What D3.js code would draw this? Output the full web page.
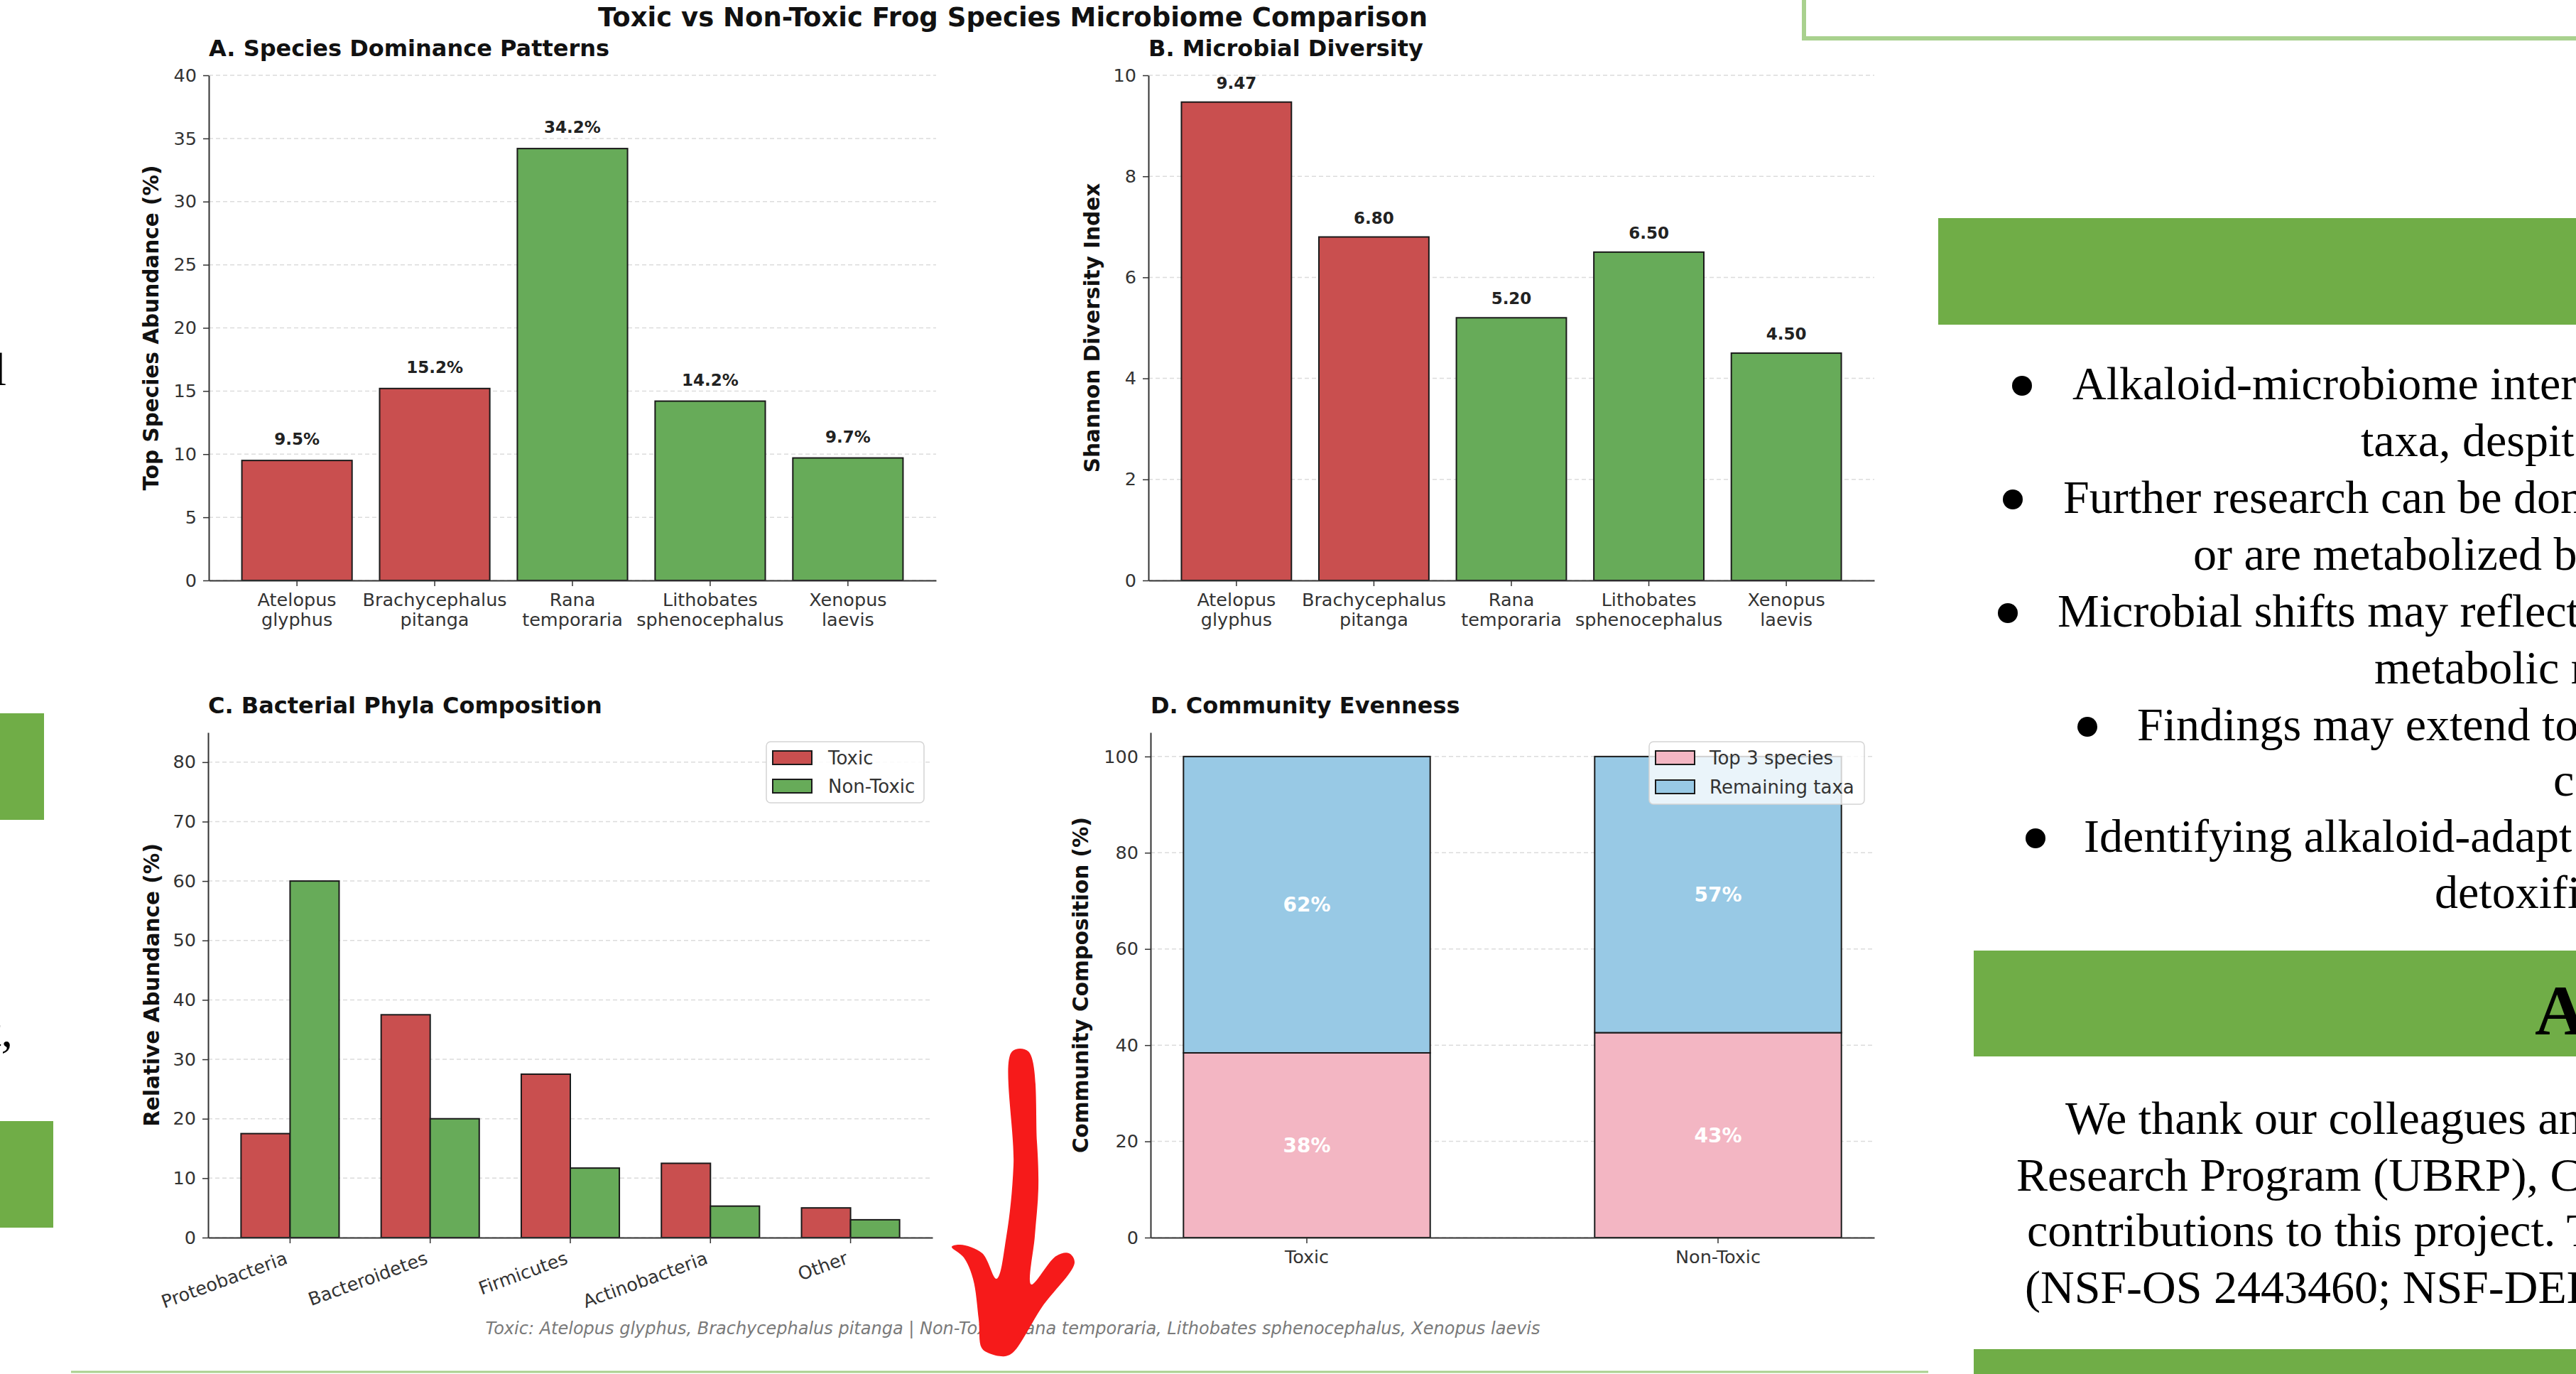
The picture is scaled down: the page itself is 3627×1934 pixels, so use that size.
<!DOCTYPE html>
<html>
<head>
<meta charset="utf-8">
<script src="https://cdn.jsdelivr.net/npm/d3@7"></script>
<style>
  body { margin: 0; background: #fff; }
  svg { display: block; }
</style>
</head>
<body>
<script>
// data
const species = ["Atelopus glyphus", "Brachycephalus pitanga", "Rana temporaria", "Lithobates sphenocephalus", "Xenopus laevis"];
const speciesGroup = ["Toxic", "Toxic", "Non-Toxic", "Non-Toxic", "Non-Toxic"];
const topSpeciesAbundance = [9.5, 15.2, 34.2, 14.2, 9.7];
const shannonIndex = [9.47, 6.80, 5.20, 6.50, 4.50];

const phyla = ["Proteobacteria", "Bacteroidetes", "Firmicutes", "Actinobacteria", "Other"];
const phylaToxic = [17.5, 37.5, 27.5, 12.5, 5.0];
const phylaNonToxic = [60.0, 20.0, 11.7, 5.3, 3.0];

const groups = ["Toxic", "Non-Toxic"];
const top3Share = [38.4, 42.6];
const remainingShare = [61.6, 57.4];

const ticksA = [0, 5, 10, 15, 20, 25, 30, 35, 40];
const ticksB = [0, 2, 4, 6, 8, 10];
const ticksC = [0, 10, 20, 30, 40, 50, 60, 70, 80];
const ticksD = [0, 20, 40, 60, 80, 100];

const RED = "#c94f4f", GREEN = "#67ab59", PINK = "#f3b6c3", BLUE = "#98c9e5";
const POSTER_GREEN = "#70ad47", LIGHT_GREEN = "#a9d18e";
const SANS = "DejaVu Sans", SERIF = "Liberation Serif";
const TICK_FS = 25.5;

const W = 3627, H = 1934;
const svg = d3.select("body").append("svg").attr("width", W).attr("height", H);
svg.append("rect").attr("width", W).attr("height", H).attr("fill", "#fff");

// ---------- shared panel helpers ----------
function frame(x, y, ticks, title, ylabel, labelOffset) {
    const [x0, x1] = x.range();
    const [yb, yt] = y.range();
    const g = svg.append("g");

    // dashed grid behind bars
    g.selectAll(".grid").data(ticks).enter().append("line")
        .attr("x1", x0).attr("x2", x1)
        .attr("y1", d => y(d)).attr("y2", d => y(d))
        .attr("stroke", "#dcdcdc").attr("stroke-width", 1.5)
        .attr("stroke-dasharray", "6,4");

    const ya = svg.append("g").attr("transform", `translate(${x0},0)`)
        .call(d3.axisLeft(y).tickValues(ticks).tickSize(8).tickSizeOuter(0).tickPadding(9));
    ya.select(".domain").attr("stroke", "#333").attr("stroke-width", 2);
    ya.selectAll(".tick line").attr("stroke", "#333").attr("stroke-width", 1.5);
    ya.selectAll("text").attr("font-family", SANS).attr("font-size", TICK_FS).attr("fill", "#333");

    svg.append("text").attr("x", x0).attr("y", yt - 27)
        .attr("font-family", SANS).attr("font-size", 32).attr("font-weight", "bold")
        .attr("fill", "#111").text(title);

    svg.append("text")
        .attr("transform", `translate(${x0 - labelOffset},${(yb + yt) / 2}) rotate(-90)`)
        .attr("text-anchor", "middle").attr("dominant-baseline", "middle")
        .attr("font-family", SANS).attr("font-size", 29.5).attr("font-weight", "bold")
        .attr("fill", "#111").text(ylabel);
    return g;
}

function bottomAxis(x, yBase, twoLine) {
    const xa = svg.append("g").attr("transform", `translate(0,${yBase})`)
        .call(d3.axisBottom(x).tickSize(8).tickSizeOuter(0).tickPadding(10));
    xa.select(".domain").attr("stroke", "#333").attr("stroke-width", 2);
    xa.selectAll(".tick line").attr("stroke", "#333").attr("stroke-width", 1.5);
    xa.selectAll("text").attr("font-family", SANS).attr("font-size", TICK_FS).attr("fill", "#333");
    if (twoLine) {
        xa.selectAll("text").each(function (d) {
            const t = d3.select(this), parts = d.split(" ");
            t.text(null);
            parts.forEach((p, i) => t.append("tspan").attr("x", 0)
                .attr("dy", i === 0 ? "0.71em" : "1.1em").text(p));
        });
    }
    return xa;
}

// ---------- A. Species Dominance Patterns ----------
{
    const x = d3.scaleBand().domain(species).range([294, 1318]).paddingInner(0.2).paddingOuter(0.24);
    const y = d3.scaleLinear().domain([0, 40]).range([817, 106]);
    const g = frame(x, y, ticksA, "A. Species Dominance Patterns", "Top Species Abundance (%)", 80);
    g.selectAll(".bar").data(species).enter().append("rect")
        .attr("x", d => x(d)).attr("width", x.bandwidth())
        .attr("y", (d, i) => y(topSpeciesAbundance[i]))
        .attr("height", (d, i) => y(0) - y(topSpeciesAbundance[i]))
        .attr("fill", (d, i) => speciesGroup[i] === "Toxic" ? RED : GREEN)
        .attr("stroke", "#1a1a1a").attr("stroke-width", 2);
    g.selectAll(".val").data(species).enter().append("text")
        .attr("x", d => x(d) + x.bandwidth() / 2)
        .attr("y", (d, i) => y(topSpeciesAbundance[i]) - 22)
        .attr("text-anchor", "middle").attr("font-family", SANS)
        .attr("font-size", 23).attr("font-weight", "bold").attr("fill", "#222")
        .text((d, i) => topSpeciesAbundance[i].toFixed(1) + "%");
    bottomAxis(x, 817, true);
}

// ---------- B. Microbial Diversity ----------
{
    const x = d3.scaleBand().domain(species).range([1617, 2639]).paddingInner(0.2).paddingOuter(0.24);
    const y = d3.scaleLinear().domain([0, 10]).range([817, 106]);
    const g = frame(x, y, ticksB, "B. Microbial Diversity", "Shannon Diversity Index", 78);
    g.selectAll(".bar").data(species).enter().append("rect")
        .attr("x", d => x(d)).attr("width", x.bandwidth())
        .attr("y", (d, i) => y(shannonIndex[i]))
        .attr("height", (d, i) => y(0) - y(shannonIndex[i]))
        .attr("fill", (d, i) => speciesGroup[i] === "Toxic" ? RED : GREEN)
        .attr("stroke", "#1a1a1a").attr("stroke-width", 2);
    g.selectAll(".val").data(species).enter().append("text")
        .attr("x", d => x(d) + x.bandwidth() / 2)
        .attr("y", (d, i) => y(shannonIndex[i]) - 19)
        .attr("text-anchor", "middle").attr("font-family", SANS)
        .attr("font-size", 23).attr("font-weight", "bold").attr("fill", "#222")
        .text((d, i) => shannonIndex[i].toFixed(2));
    bottomAxis(x, 817, true);
}

// ---------- C. Bacterial Phyla Composition ----------
{
    const x = d3.scaleBand().domain(phyla).range([293, 1313]).paddingInner(0.3).paddingOuter(0.235);
    const xs = d3.scaleBand().domain(groups).range([0, x.bandwidth()]);
    const y = d3.scaleLinear().domain([0, 85]).range([1742, 1031]);
    const g = frame(x, y, ticksC, "C. Bacterial Phyla Composition", "Relative Abundance (%)", 78);
    const series = [phylaToxic, phylaNonToxic];
    groups.forEach((grp, s) => {
        g.selectAll(".bar" + s).data(phyla).enter().append("rect")
            .attr("x", d => x(d) + xs(grp)).attr("width", xs.bandwidth())
            .attr("y", (d, i) => y(series[s][i]))
            .attr("height", (d, i) => y(0) - y(series[s][i]))
            .attr("fill", s === 0 ? RED : GREEN)
            .attr("stroke", "#1a1a1a").attr("stroke-width", 2);
    });
    const xa = bottomAxis(x, 1742, false);
    xa.selectAll("text")
        .attr("text-anchor", "end").attr("dy", null).attr("y", null)
        .attr("transform", "translate(-2,36) rotate(-20)");

    // legend
    const lg = svg.append("g").attr("transform", "translate(1079,1044)");
    lg.append("rect").attr("width", 222).attr("height", 86).attr("rx", 6)
        .attr("fill", "#fff").attr("fill-opacity", 0.85).attr("stroke", "#d4d4d4").attr("stroke-width", 1.5);
    groups.forEach((grp, i) => {
        lg.append("rect").attr("x", 9).attr("y", 13 + i * 40).attr("width", 55).attr("height", 19)
            .attr("fill", i === 0 ? RED : GREEN).attr("stroke", "#1a1a1a").attr("stroke-width", 2);
        lg.append("text").attr("x", 87).attr("y", 32 + i * 40)
            .attr("font-family", SANS).attr("font-size", 26).attr("fill", "#333").text(grp);
    });
}

// ---------- D. Community Evenness ----------
{
    const x = d3.scaleBand().domain(groups).range([1620, 2639]).paddingInner(0.4).paddingOuter(0.08);
    const y = d3.scaleLinear().domain([0, 105]).range([1742, 1031]);
    const g = frame(x, y, ticksD, "D. Community Evenness", "Community Composition (%)", 97);
    g.selectAll(".bottom").data(groups).enter().append("rect")
        .attr("x", d => x(d)).attr("width", x.bandwidth())
        .attr("y", (d, i) => y(top3Share[i]))
        .attr("height", (d, i) => y(0) - y(top3Share[i]))
        .attr("fill", PINK).attr("stroke", "#1a1a1a").attr("stroke-width", 2);
    g.selectAll(".top").data(groups).enter().append("rect")
        .attr("x", d => x(d)).attr("width", x.bandwidth())
        .attr("y", (d, i) => y(top3Share[i] + remainingShare[i]))
        .attr("height", (d, i) => y(top3Share[i]) - y(top3Share[i] + remainingShare[i]))
        .attr("fill", BLUE).attr("stroke", "#1a1a1a").attr("stroke-width", 2);
    const lab = (d, lo, v) => g.append("text")
        .attr("x", x(d) + x.bandwidth() / 2).attr("y", y(lo + v / 2)).attr("dy", "0.36em")
        .attr("text-anchor", "middle").attr("font-family", SANS).attr("font-size", 28)
        .attr("font-weight", "bold").attr("fill", "#fff").text(Math.round(v) + "%");
    groups.forEach((d, i) => {
        lab(d, 0, top3Share[i]);
        lab(d, top3Share[i], remainingShare[i]);
    });
    bottomAxis(x, 1742, false);

    const lg = svg.append("g").attr("transform", "translate(2322,1044)");
    lg.append("rect").attr("width", 303).attr("height", 88).attr("rx", 6)
        .attr("fill", "#fff").attr("fill-opacity", 0.8).attr("stroke", "#d4d4d4").attr("stroke-width", 1.5);
    ["Top 3 species", "Remaining taxa"].forEach((t, i) => {
        lg.append("rect").attr("x", 9).attr("y", 13 + i * 41).attr("width", 55).attr("height", 19)
            .attr("fill", i === 0 ? PINK : BLUE).attr("stroke", "#1a1a1a").attr("stroke-width", 2);
        lg.append("text").attr("x", 85).attr("y", 32 + i * 41)
            .attr("font-family", SANS).attr("font-size", 26).attr("fill", "#333").text(t);
    });
}

// figure title and footnote
svg.append("text").attr("x", 1426).attr("y", 37).attr("text-anchor", "middle")
    .attr("font-family", SANS).attr("font-size", 37).attr("font-weight", "bold").attr("fill", "#111")
    .text("Toxic vs Non-Toxic Frog Species Microbiome Comparison");
svg.append("text").attr("x", 1426).attr("y", 1878).attr("text-anchor", "middle")
    .attr("font-family", SANS).attr("font-size", 24).attr("font-style", "italic").attr("fill", "#7a7a7a")
    .text("Toxic: Atelopus glyphus, Brachycephalus pitanga | Non-Toxic: Rana temporaria, Lithobates sphenocephalus, Xenopus laevis");

// ---------- surrounding poster fragments ----------
svg.append("line").attr("x1", 100).attr("x2", 2715).attr("y1", 1931).attr("y2", 1931)
    .attr("stroke", LIGHT_GREEN).attr("stroke-width", 3);
svg.append("path").attr("d", `M2540,0 V54 H${W}`).attr("fill", "none")
    .attr("stroke", LIGHT_GREEN).attr("stroke-width", 6);

const banners = [[2729, 307, 150], [2779, 1338, 149], [2779, 1899, 40]];
svg.selectAll(".banner").data(banners).enter().append("rect")
    .attr("x", d => d[0]).attr("y", d => d[1]).attr("width", d => W - d[0]).attr("height", d => d[2])
    .attr("fill", POSTER_GREEN);
svg.selectAll(".lbox").data([[1004, 62, 150], [1578, 75, 150]]).enter().append("rect")
    .attr("x", 0).attr("y", d => d[0]).attr("width", d => d[1]).attr("height", d => d[2])
    .attr("fill", POSTER_GREEN);

const posterLines = [
    [2918, 562, "Alkaloid-microbiome inter", 2847],
    [3324, 642, "taxa, despit", null],
    [2905, 722, "Further research can be don", 2834],
    [3088, 802, "or are metabolized b", null],
    [2897, 882, "Microbial shifts may reflect", 2827],
    [3343, 962, "metabolic r", null],
    [3009, 1042, "Findings may extend to", 2939],
    [3595, 1120, "c", null],
    [2934, 1199, "Identifying alkaloid-adapt", 2866],
    [3428, 1278, "detoxifi", null],
    [2908, 1596, "We thank our colleagues an", null],
    [2839, 1676, "Research Program (UBRP), C", null],
    [2854, 1754, "contributions to this project. T", null],
    [2851, 1834, "(NSF-OS 2443460; NSF-DEB", null]
];
posterLines.forEach(([x, y, t, bx]) => {
    svg.append("text").attr("x", x).attr("y", y).attr("font-family", SERIF)
        .attr("font-size", 66).attr("fill", "#000").text(t);
    if (bx !== null) svg.append("circle").attr("cx", bx).attr("cy", y - 19).attr("r", 14).attr("fill", "#000");
});
svg.append("text").attr("x", 3569).attr("y", 1456).attr("font-family", SERIF)
    .attr("font-size", 100).attr("font-weight", "bold").attr("fill", "#000").text("A");
svg.append("text").attr("x", 9).attr("y", 542).attr("text-anchor", "end").attr("font-family", SERIF)
    .attr("font-size", 66).attr("fill", "#000").text("l");
svg.append("text").attr("x", 18).attr("y", 1473).attr("text-anchor", "end").attr("font-family", SERIF)
    .attr("font-size", 66).attr("fill", "#000").text("t,");

// red hand-drawn arrow
const arrowPts = [[1425, 1480], [1448, 1480], [1460, 1607], [1462, 1673], [1457, 1740], [1452, 1808],
    [1487, 1768], [1505, 1764], [1513, 1777], [1467, 1840], [1427, 1903], [1415, 1909], [1393, 1905],
    [1382, 1897], [1378, 1857], [1370, 1800], [1357, 1770], [1340, 1755], [1352, 1752], [1383, 1764],
    [1403, 1800], [1417, 1740], [1427, 1640]];
svg.append("path").attr("d", d3.line().curve(d3.curveCatmullRomClosed.alpha(0.5))(arrowPts))
    .attr("fill", "#f61a1a");
</script>
</body>
</html>
